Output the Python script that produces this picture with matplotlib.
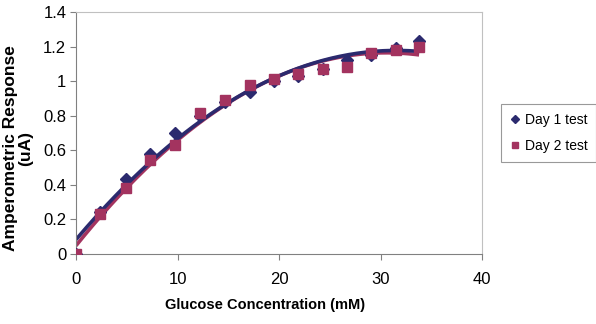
import numpy as np
import matplotlib
matplotlib.use('Agg')
import matplotlib.pyplot as plt
from matplotlib.ticker import FuncFormatter

plt.rcParams['font.family'] = ['Liberation Sans', 'DejaVu Sans']

# glucose concentration (mM) and response (uA) for the two test days
conc = [0, 2.4, 4.9, 7.3, 9.8, 12.2, 14.7, 17.1, 19.5, 21.9, 24.3, 26.7, 29.1, 31.5, 33.8]
day1 = [0, 0.245, 0.435, 0.58, 0.70, 0.80, 0.88, 0.94, 1.00, 1.03, 1.07, 1.12, 1.15, 1.19, 1.235]
day2 = [0, 0.23, 0.38, 0.545, 0.63, 0.815, 0.89, 0.975, 1.01, 1.04, 1.07, 1.08, 1.16, 1.18, 1.20]
labels = ['Day 1 test', 'Day 2 test']

navy = '#2b2a6e'
plum = '#a3335f'

fig = plt.figure(figsize=(5.96, 3.24), dpi=100)
ax = fig.add_axes([76 / 596, 1 - 254 / 324, 406 / 596, 242 / 324])

# 2nd order polynomial trendlines (Excel style)
xs = np.linspace(0, max(conc), 200)
for y, c in [(day2, plum), (day1, navy)]:
    p = np.polyfit(conc, y, 2)
    ax.plot(xs, np.polyval(p, xs), color=c, lw=2.6, zorder=2, solid_capstyle='butt')

ax.plot(conc, day1, 'D', color=navy, ms=6.3, ls='none', label=labels[0], zorder=3)
ax.plot(conc, day2, 's', color=plum, ms=6.8, ls='none', label=labels[1], zorder=4)

ax.set_xlim(0, 40)
ax.set_ylim(0, 1.4)
ax.set_xticks([0, 10, 20, 30, 40])
ax.set_yticks(np.arange(0, 1.41, 0.2))
ax.yaxis.set_major_formatter(FuncFormatter(lambda v, _: f'{v:g}'))
ax.tick_params(labelsize=12, length=4, color='#808080', pad=3)
ax.tick_params(axis='x', pad=9)

for s in ['left', 'bottom']:
    ax.spines[s].set_color('#808080')
for s in ['top', 'right']:
    ax.spines[s].set_color('#c0c0c0')

ax.set_xlabel('Glucose Concentration (mM)', fontsize=10.5, fontweight='bold')
ax.xaxis.set_label_coords(0.466, -0.21)
ax.xaxis.label.set_va('center')
ax.set_ylabel('Amperometric Response\n(uA)', fontsize=12.5, fontweight='bold',
              va='center', linespacing=1.0)
ax.yaxis.set_label_coords(-0.143, 0.438)

leg = ax.legend(loc='center left', bbox_to_anchor=(1.03, 0.5), fontsize=10,
                frameon=True, fancybox=False, edgecolor='#808080', handlelength=0.8,
                handletextpad=0.3, borderpad=0.6, labelspacing=0.9, markerscale=0.7)
leg.get_frame().set_linewidth(0.8)

fig.savefig('out.png', dpi=100, facecolor='white')
